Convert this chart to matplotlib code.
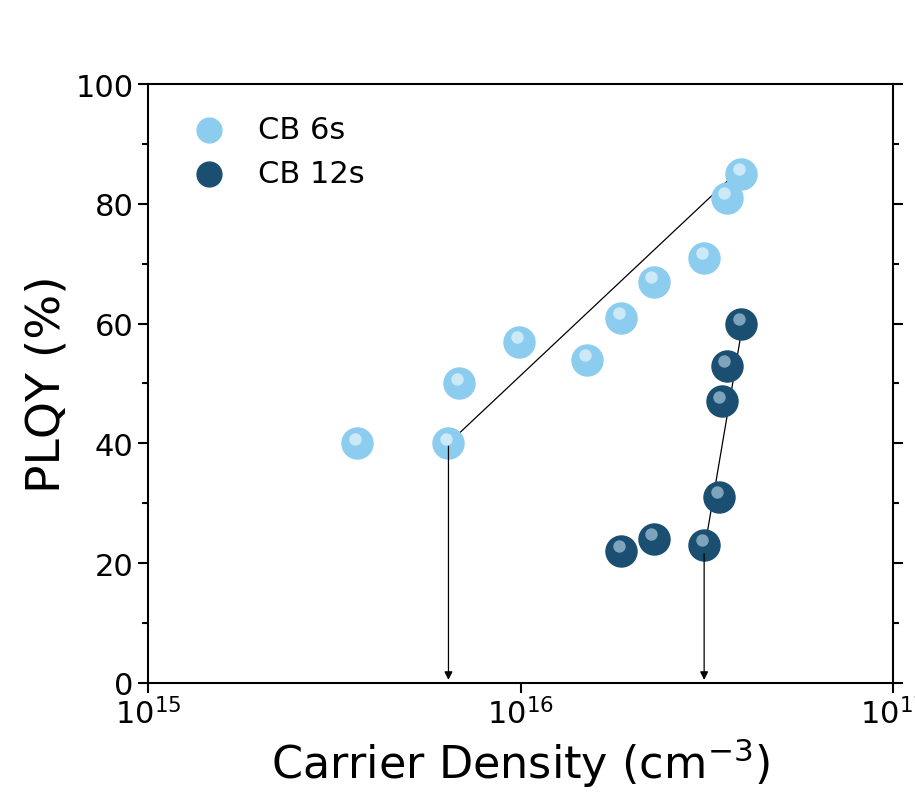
import matplotlib
matplotlib.use("Agg")
import matplotlib.pyplot as plt
from matplotlib.ticker import FixedLocator, MultipleLocator, NullLocator

x6 = [3.64e15, 6.39e15, 6.84e15, 9.9e15, 1.51e16, 1.86e16, 2.28e16, 3.11e16, 3.58e16, 3.91e16]
y6 = [40, 40, 50, 57, 54, 61, 67, 71, 81, 85]
x12 = [1.86e16, 2.28e16, 3.11e16, 3.41e16, 3.47e16, 3.58e16, 3.91e16]
y12 = [22, 24, 23, 31, 47, 53, 60]
fit6_x = [6.4e15, 3.91e16]; fit6_y = [40, 86]
fit12_x = [3.11e16, 3.95e16]; fit12_y = [22, 60]
arrow_x = [6.4e15, 3.11e16]; arrow_y = [40, 22]

fig = plt.figure(figsize=(9.15, 8.12), dpi=100)
ax = fig.add_axes([0.162, 0.158, 0.814, 0.737])
ax.set_xscale("log")
ax.set_xlim(1e15, 1e17)
ax.set_ylim(0, 100)

def spheres(x, y, base, hi, label):
    ax.scatter(x, y, s=500, c=base, edgecolors=base, zorder=3, label=label)
    ax.scatter([v * 0.985 for v in x], [v + 0.8 for v in y], s=80, c=hi, alpha=0.7, zorder=4, linewidths=0)

spheres(x6, y6, "#8ccdef", "#e8f6fd", "CB 6s")
spheres(x12, y12, "#1b4f72", "#a9c8de", "CB 12s")
ax.plot(fit6_x, fit6_y, color="black", lw=0.9, zorder=2)
ax.plot(fit12_x, fit12_y, color="black", lw=0.9, zorder=2)
for xa, ya in zip(arrow_x, arrow_y):
    ax.annotate("", xy=(xa, 0), xytext=(xa, ya),
                arrowprops=dict(arrowstyle="-|>", color="black", lw=0.9, mutation_scale=12))

ax.yaxis.set_major_locator(MultipleLocator(20))
ax.yaxis.set_minor_locator(MultipleLocator(10))
ax.xaxis.set_major_locator(FixedLocator([1e15, 1e16, 1e17]))
ax.xaxis.set_minor_locator(NullLocator())
ax.tick_params(axis="both", which="both", direction="out", labelsize=22, width=1.5)
ax.tick_params(which="major", length=7)
ax.tick_params(which="minor", length=4)
ax.tick_params(axis="y", right=True, which="both")
ax.set_xticklabels([r"$10^{15}$", r"$10^{16}$", r"$10^{17}$"])
for s in ax.spines.values():
    s.set_linewidth(1.5)
ax.set_xlabel("Carrier Density (cm$^{-3}$)", fontsize=32)
ax.set_ylabel("PLQY (%)", fontsize=34)
ax.legend(loc="upper left", fontsize=22, frameon=False, markerscale=0.8,
          handletextpad=0.6, borderaxespad=0.6)
fig.savefig("out.png", dpi=100)
